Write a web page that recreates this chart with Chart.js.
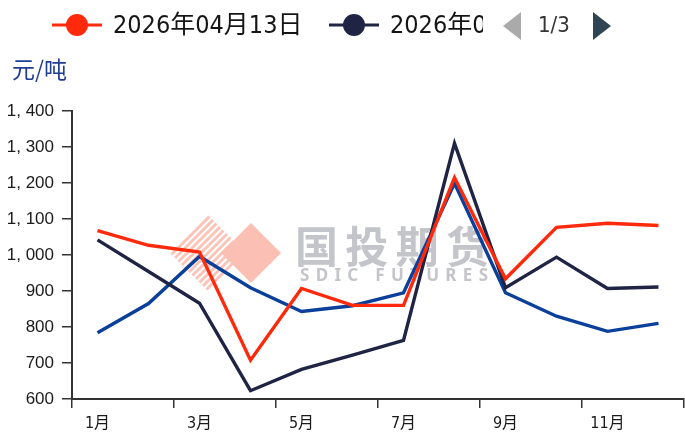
<!DOCTYPE html>
<html><head><meta charset="utf-8">
<script src="https://cdn.jsdelivr.net/npm/chart.js"></script>
<style>html,body{margin:0;padding:0;background:#fff;overflow:hidden}canvas{display:block}</style>
</head><body>
<canvas id="c" width="685" height="434"></canvas>
<script>
// ---- data ----
const categories = ['1月','2月','3月','4月','5月','6月','7月','8月','9月','10月','11月','12月'];
const seriesA = [1068, 1027, 1008, 708, 907, 860, 860, 1215, 934, 1077, 1088, 1082]; // red
const seriesB = [1042, 954, 866, 623, 682, 722, 763, 1310, 909, 994, 907, 911];      // navy
const seriesC = [784, 865, 996, 909, 843, 859, 895, 1199, 895, 830, 788, 810];       // blue
const seriesNames = ['2026年04月13日', '2026年0', ''];
const yMin = 600, yMax = 1400, yStep = 100;
const unitLabel = '元/吨';
const pagerText = '1/3';
const wmTitle = '国投期货';
const wmSub = 'SDIC FUTURES';

const colors = ['#ff2a0c', '#1f2444', '#0a3f9a'];

function fmt(v){
  if (v >= 1000) { const r = String(v % 1000).padStart(3,'0'); return Math.floor(v/1000) + ', ' + r; }
  return String(v);
}
function fitText(ctx, text, x, y, width){
  const chars=[...text]; const ws=chars.map(c=>ctx.measureText(c).width);
  const total=ws.reduce((a,b)=>a+b,0);
  const gap = chars.length>1 ? (width-total)/(chars.length-1) : 0;
  let cx=x; chars.forEach((c,i)=>{ctx.fillText(c,cx,y); cx+=ws[i]+gap;});
}

const watermark = {
  id:'watermark',
  beforeDatasetsDraw(chart){
    const ctx=chart.ctx; ctx.save();
    // stripes
    ctx.save();
    ctx.beginPath(); const sx=208, sy=253, sr=38;
    ctx.moveTo(sx,sy-sr); ctx.lineTo(sx+sr,sy); ctx.lineTo(sx,sy+sr); ctx.lineTo(sx-sr,sy); ctx.closePath();
    ctx.clip();
    ctx.strokeStyle='#fbc4b9'; ctx.lineWidth=3;
    for(let k=-70;k<=70;k+=7){ ctx.beginPath(); ctx.moveTo(sx+k-60, sy+60); ctx.lineTo(sx+k+60, sy-60); ctx.stroke(); }
    ctx.restore();
    // diamond
    ctx.fillStyle='#fbbfb3';
    ctx.beginPath(); const dx=251, dy=253, dr=30;
    ctx.moveTo(dx,dy-dr); ctx.lineTo(dx+dr,dy); ctx.lineTo(dx,dy+dr); ctx.lineTo(dx-dr,dy); ctx.closePath(); ctx.fill();
    // text
    ctx.fillStyle='#c3c5ca';
    ctx.textBaseline='middle';
    ctx.font='bold 43px "Noto Sans CJK SC"';
    fitText(ctx, wmTitle, 295, 247, 194);
    ctx.font='bold 17px "Noto Sans", "DejaVu Sans"';
    fitText(ctx, wmSub, 300, 276, 188);
    ctx.restore();
  }
};

const header = {
  id:'header',
  afterDraw(chart){
    const ctx=chart.ctx; ctx.save();
    const y=25;
    const items=[{x:52, clip:null},{x:329, clip:483}];
    items.forEach((it,i)=>{
      ctx.strokeStyle=colors[i]; ctx.lineWidth=3;
      ctx.beginPath(); ctx.moveTo(it.x,y); ctx.lineTo(it.x+50,y); ctx.stroke();
      ctx.fillStyle=colors[i]; ctx.beginPath(); ctx.arc(it.x+25,y,11,0,Math.PI*2); ctx.fill();
      ctx.save();
      if(it.clip){ ctx.beginPath(); ctx.rect(0,0,it.clip,60); ctx.clip(); }
      ctx.fillStyle='#151515'; ctx.textBaseline='middle';
      ctx.font='25px "DejaVu Sans Condensed", "Noto Sans CJK SC"';
      ctx.fillText(seriesNames[i], it.x+61, y+1);
      ctx.restore();
    });
    // pager
    ctx.fillStyle='#aaaaaa';
    ctx.beginPath(); ctx.moveTo(503,26); ctx.lineTo(521,12); ctx.lineTo(521,40); ctx.closePath(); ctx.fill();
    ctx.fillStyle='#333'; ctx.textBaseline='middle';
    ctx.font='22px "DejaVu Sans Condensed"';
    ctx.fillText(pagerText, 538, 26);
    ctx.fillStyle='#2f4554';
    ctx.beginPath(); ctx.moveTo(593,12); ctx.lineTo(611,26); ctx.lineTo(593,40); ctx.closePath(); ctx.fill();
    // unit
    ctx.fillStyle='#1f3d91'; ctx.font='23px "Noto Sans CJK SC"'; ctx.textBaseline='middle';
    ctx.fillText(unitLabel, 12, 69);
    ctx.restore();
  }
};

const mk=(i,data)=>({label:seriesNames[i], data, borderColor:colors[i], backgroundColor:colors[i], borderWidth:3.4, pointRadius:0, tension:0, fill:false});

new Chart(document.getElementById('c'), {
  type:'line',
  data:{labels:categories, datasets:[mk(0,seriesA), mk(1,seriesB), mk(2,seriesC)]},
  options:{
    responsive:false, animation:false, devicePixelRatio:1,
    layout:{padding:{top:111, right:1, left:0, bottom:0}},
    plugins:{legend:{display:false}, tooltip:{enabled:false}},
    scales:{
      x:{type:'category', offset:true,
        grid:{offset:true, drawOnChartArea:false, tickLength:9, lineWidth:1.5,
          color:c=>(c.type!=='tick' || c.index%2===0)?'#333':'rgba(0,0,0,0)'},
        border:{color:'#333', width:2},
        ticks:{autoSkip:false, maxRotation:0, minRotation:0, padding:6, color:'#1a1a1a',
          font:{family:'"DejaVu Sans Condensed", "Noto Sans CJK SC"', size:16},
          callback:(v,i)=> i%2===0 ? categories[i] : ''},
        afterFit:s=>{s.height=35;}
      },
      y:{min:yMin, max:yMax,
        ticks:{stepSize:yStep, padding:8, color:'#1a1a1a',
          font:{family:'"Liberation Sans", Arial', size:17}, callback:v=>fmt(v)},
        grid:{drawOnChartArea:false, tickLength:10, color:'#333', lineWidth:1.5},
        border:{color:'#333', width:2},
        afterFit:s=>{s.width=72;}
      }
    }
  },
  plugins:[watermark, header]
});
</script>
</body></html>
